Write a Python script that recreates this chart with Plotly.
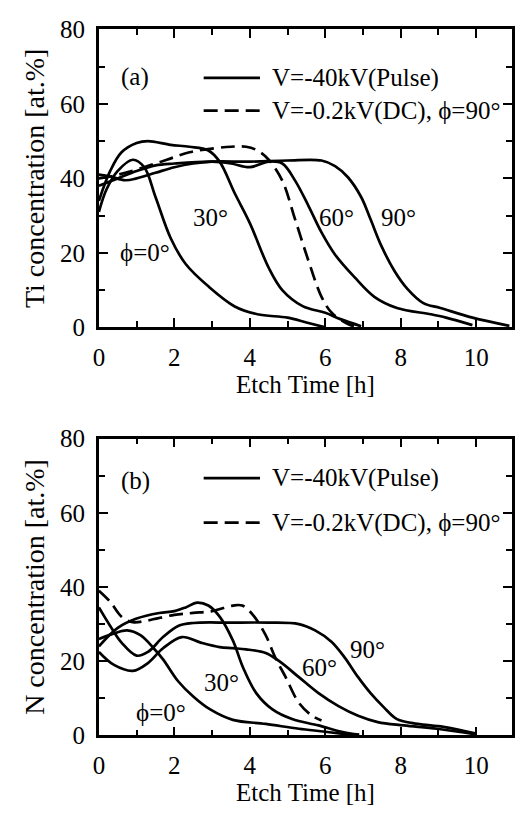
import plotly.graph_objects as go

# ---------------- data: (a) Ti concentration ----------------
ti_phi0_x = [0, 0.2, 0.5, 0.9, 1.2, 1.5, 1.9, 2.3, 2.9, 3.6, 4.2, 5.0, 5.5, 6.0]
ti_phi0_y = [31, 37, 42, 45, 43, 35, 24, 17, 11, 5.6, 3.5, 2.6, 1.3, 0]
ti_30_x = [0, 0.3, 0.6, 1.0, 1.3, 1.9, 2.4, 2.9, 3.2, 3.6, 4.0, 4.5, 4.86, 5.4, 6.0, 6.4, 6.95]
ti_30_y = [34, 42, 47, 49.5, 50, 49, 48.5, 47.5, 44.5, 36, 28, 16, 10, 5.7, 3.9, 2.2, 0.3]
ti_60_x = [0, 0.5, 1.0, 1.5, 2.0, 3.0, 3.5, 4.0, 4.5, 4.86, 5.2, 5.56, 5.9, 6.26, 6.78, 7.3, 7.9, 8.8, 9.2, 9.9]
ti_60_y = [38, 40, 42, 43.5, 44, 44.5, 44, 43, 44.5, 44, 39.4, 32.5, 25.5, 19.5, 13.4, 8.2, 5.2, 3.5, 2.6, 0.6]
ti_90_x = [0, 0.3, 0.7, 1.0, 1.5, 2.0, 2.5, 3.0, 4.0, 5.0, 5.9, 6.26, 6.6, 6.95, 7.2, 7.48, 7.83, 8.17, 8.6, 9.05, 9.9, 10.88]
ti_90_y = [41, 40.5, 39.5, 40, 41.5, 43, 44, 44.5, 44.5, 44.8, 44.8, 43.3, 40.3, 35, 29, 22, 15.2, 10.4, 6.5, 5.2, 2.6, 0.4]
ti_dc_x = [0, 0.3, 0.7, 1.2, 1.8, 2.4, 3.0, 3.5, 3.9, 4.2, 4.5, 4.86, 5.2, 5.56, 5.9, 6.17, 6.6, 6.9]
ti_dc_y = [40, 40.5, 41.5, 43, 45, 47, 48, 48.5, 48.5, 47.5, 45, 39.4, 29, 17.7, 8.2, 3.9, 0.9, 0]

# ---------------- data: (b) N concentration ----------------
n_phi0_x = [0, 0.4, 0.75, 1.1, 1.45, 1.7, 2.1, 2.5, 2.95, 3.55, 4.42, 5.3, 6.0, 6.8]
n_phi0_y = [26, 27.5, 28.3, 27, 23.5, 20.5, 14.6, 10.5, 7, 4.2, 3.1, 1.8, 1.0, 0]
n_30_x = [0, 0.5, 1.0, 1.6, 2.0, 2.3, 2.6, 2.9, 3.2, 3.55, 3.82, 4.17, 4.6, 5.12, 5.82, 6.43, 6.9]
n_30_y = [24, 29, 31.5, 33, 33.5, 34.5, 35.8, 35, 32, 25.6, 18.3, 11.4, 7, 4.4, 2.7, 1, 0.2]
n_60_x = [0, 0.4, 0.9, 1.3, 1.7, 2.2, 2.7, 3.2, 3.55, 3.9, 4.42, 4.78, 5.3, 5.82, 6.35, 6.87, 7.39, 8.08, 8.96, 10.0]
n_60_y = [22.5, 19, 17.4, 19.5, 23.5, 26.5, 25, 23.8, 23.5, 23.2, 22.2, 20, 15.7, 11.4, 7.9, 5.3, 3.6, 2.7, 1.8, 0.3]
n_90_x = [0, 0.3, 0.6, 1.0, 1.3, 1.7, 2.1, 2.5, 3.5, 4.5, 5.3, 5.73, 6.17, 6.52, 6.87, 7.2, 7.56, 7.9, 8.44, 9.13, 10.0]
n_90_y = [34.5, 29.5, 25, 21.5, 22.5, 26.5, 29.5, 30.3, 30.4, 30.4, 30, 28.3, 25.2, 20.9, 15.7, 11.4, 7.5, 4.4, 3.1, 2.3, 0.5]
n_dc_x = [0, 0.3, 0.6, 0.9, 1.3, 2.0, 2.5, 3.0, 3.55, 3.8, 4.08, 4.42, 4.68, 4.95, 5.3, 5.65, 5.9]
n_dc_y = [39, 36, 32, 30.5, 31, 32.5, 33, 33.5, 35, 35, 32.5, 27, 20.9, 15.7, 8.8, 5.3, 4]

x_ticks = [0, 2, 4, 6, 8, 10]
y_ticks = [0, 20, 40, 60, 80]

curve_labels = ["\u03d5=0\u00b0", "30\u00b0", "60\u00b0", "90\u00b0"]
label_pos_a = [(1.23, 20), (2.96, 29.4), (6.31, 29.4), (7.94, 29.4)]
label_pos_b = [(1.65, 6.2), (3.25, 14.3), (5.84, 18.2), (7.11, 23.1)]

legend_solid = "V=-40kV(Pulse)"
legend_dash = "V=-0.2kV(DC), \u03d5=90\u00b0"

W, H = 516, 821
FONT = "Liberation Serif"
LW = 2.7
DASH = "14px,7px"
FS = 25

fig = go.Figure()

def add(x, y, xa, ya, dash=None):
    fig.add_trace(go.Scatter(x=x, y=y, mode="lines", xaxis=xa, yaxis=ya,
                             line=dict(color="black", width=LW, shape="spline",
                                       smoothing=1.0, dash=dash),
                             showlegend=False, hoverinfo="skip"))

for xs, ys in [(ti_phi0_x, ti_phi0_y), (ti_30_x, ti_30_y), (ti_60_x, ti_60_y), (ti_90_x, ti_90_y)]:
    add(xs, ys, "x", "y")
add(ti_dc_x, ti_dc_y, "x", "y", DASH)
for xs, ys in [(n_phi0_x, n_phi0_y), (n_30_x, n_30_y), (n_60_x, n_60_y), (n_90_x, n_90_y)]:
    add(xs, ys, "x2", "y2")
add(n_dc_x, n_dc_y, "x2", "y2", DASH)

xdom = [94 / W, 512 / W]
dom_a = [1 - 325 / H, 1 - 17 / H]
dom_b = [1 - 747 / H, 1 - 440 / H]

tickfont = dict(family=FONT, size=FS, color="black")
titlefont = dict(family=FONT, size=FS, color="black")

def xaxis(anchor):
    return dict(domain=xdom, anchor=anchor, range=[0, 10.95],
                tickvals=x_ticks, ticks="inside", ticklen=9, tickwidth=2.4,
                tickcolor="black", minor=dict(dtick=1, tick0=0, ticks="inside", ticklen=6,
                                              tickwidth=2.2, tickcolor="black"),
                showline=True, linewidth=2.7, linecolor="black", mirror="allticks",
                showgrid=False, zeroline=False, tickfont=tickfont,
                ticklabelstandoff=6,
                title=dict(text="Etch Time [h]", font=titlefont, standoff=2))

def yaxis(anchor, title, dom):
    return dict(domain=dom, anchor=anchor, range=[0, 80],
                tickvals=y_ticks, ticks="inside", ticklen=9, tickwidth=2.4,
                tickcolor="black", minor=dict(dtick=10, tick0=0, ticks="inside", ticklen=6,
                                              tickwidth=2.2, tickcolor="black"),
                showline=True, linewidth=2.7, linecolor="black", mirror="allticks",
                showgrid=False, zeroline=False, tickfont=tickfont,
                ticklabelstandoff=6,
                title=dict(text=title, font=dict(family=FONT, size=28, color="black"),
                           standoff=8))

annotations = []
for (xa, ya, pos) in [("x", "y", label_pos_a), ("x2", "y2", label_pos_b)]:
    for txt, (px, py) in zip(curve_labels, pos):
        annotations.append(dict(x=px, y=py, xref=xa, yref=ya, text=txt, showarrow=False,
                                font=dict(family=FONT, size=FS, color="black")))

shapes = []
for tag, y_solid, y_dash, y_tag in [("(a)", 67, 101, 66), ("(b)", 481, 527, 484)]:
    shapes.append(dict(type="line", xref="paper", yref="paper", x0=200 / W, x1=257 / W,
                       y0=1 - y_solid / H, y1=1 - y_solid / H,
                       line=dict(color="black", width=LW)))
    shapes.append(dict(type="line", xref="paper", yref="paper", x0=200 / W, x1=257 / W,
                       y0=1 - y_dash / H, y1=1 - y_dash / H,
                       line=dict(color="black", width=LW, dash=DASH)))
    annotations.append(dict(x=267 / W, y=1 - y_solid / H, xref="paper", yref="paper",
                            xanchor="left", yanchor="middle", text=legend_solid, showarrow=False,
                            font=dict(family=FONT, size=FS, color="black")))
    annotations.append(dict(x=267 / W, y=1 - y_dash / H, xref="paper", yref="paper",
                            xanchor="left", yanchor="middle", text=legend_dash, showarrow=False,
                            font=dict(family=FONT, size=FS, color="black")))
    annotations.append(dict(x=131 / W, y=1 - y_tag / H, xref="paper", yref="paper",
                            xanchor="center", yanchor="middle", text=tag, showarrow=False,
                            font=dict(family=FONT, size=FS, color="black")))

fig.update_layout(
    width=W, height=H, margin=dict(l=0, r=0, t=0, b=0),
    paper_bgcolor="white", plot_bgcolor="white", showlegend=False,
    xaxis=xaxis("y"), yaxis=yaxis("x", "Ti concentration [at.%]", dom_a),
    xaxis2=xaxis("y2"), yaxis2=yaxis("x2", "N concentration [at.%]", dom_b),
    annotations=annotations, shapes=shapes,
)

fig.write_html("out.html")
